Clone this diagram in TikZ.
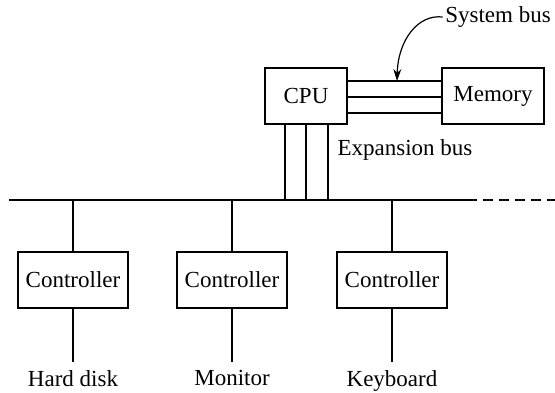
\documentclass[tikz,border=0pt]{standalone}
\usepackage{fontspec}
\setmainfont{Liberation Serif}
\usetikzlibrary{arrows.meta}
\usetikzlibrary{positioning, calc}

\begin{document}
\begin{tikzpicture}[
    x=0.5pt, y=-0.5pt,
    line width=0.6pt,
    block/.style={draw, line width=0.6pt, font=\fontsize{11.5}{13}\selectfont, inner sep=0pt},
    cpubox/.style={block, minimum width=41pt, minimum height=28pt},
    membox/.style={block, minimum width=51pt, minimum height=28pt},
    ctrlbox/.style={block, minimum width=55pt, minimum height=28pt},
    lbl/.style={font=\fontsize{11.5}{13}\selectfont, inner sep=4pt}
]
    \useasboundingbox (0,0) rectangle (555,392);

    \node[cpubox] (cpu) at (306,96) {CPU};
    \node[membox] (memory) at (493,96) {Memory};

    % main bus
    \coordinate (busL) at (9,200);
    \coordinate (busR) at (467,200);
    \coordinate (busE) at (555,200);
    \draw (busL) -- (busR);
    \draw[dash pattern=on 5pt off 3pt] (busR) -- (busE);

    % system bus
    \foreach \dy in {-15, 1, 17} {
        \draw ($(cpu.east)+(0,\dy)$) -- ($(memory.west)+(0,\dy)$);
    }
    \node[lbl, inner sep=1pt] (sysbus) at (498,17) {System bus};
    \draw[-{Stealth[length=6pt, width=4pt]}] (sysbus.west) .. controls (418,14) and (398,40) .. (397,81);

    % expansion bus
    \foreach \dx in {-21, 0, 22} {
        \draw (cpu.south) ++(\dx,0) coordinate (t) -- (t|-busL);
    }
    \node[lbl, inner sep=0pt] (expbus) at (405,150) {Expansion bus};

    \foreach \x/\dev/\name in {73/Hard disk/disk, 232/Monitor/monitor, 392/Keyboard/keyboard} {
        \node[ctrlbox] (ctrl\name) at (\x,280) {Controller};
        \node[lbl, anchor=north] (\name) at (\x,362) {\dev};
        \draw (ctrl\name.north) -- (ctrl\name.north|-busL);
        \draw (ctrl\name.south) -- (\name.north);
    }
\end{tikzpicture}
\end{document}
